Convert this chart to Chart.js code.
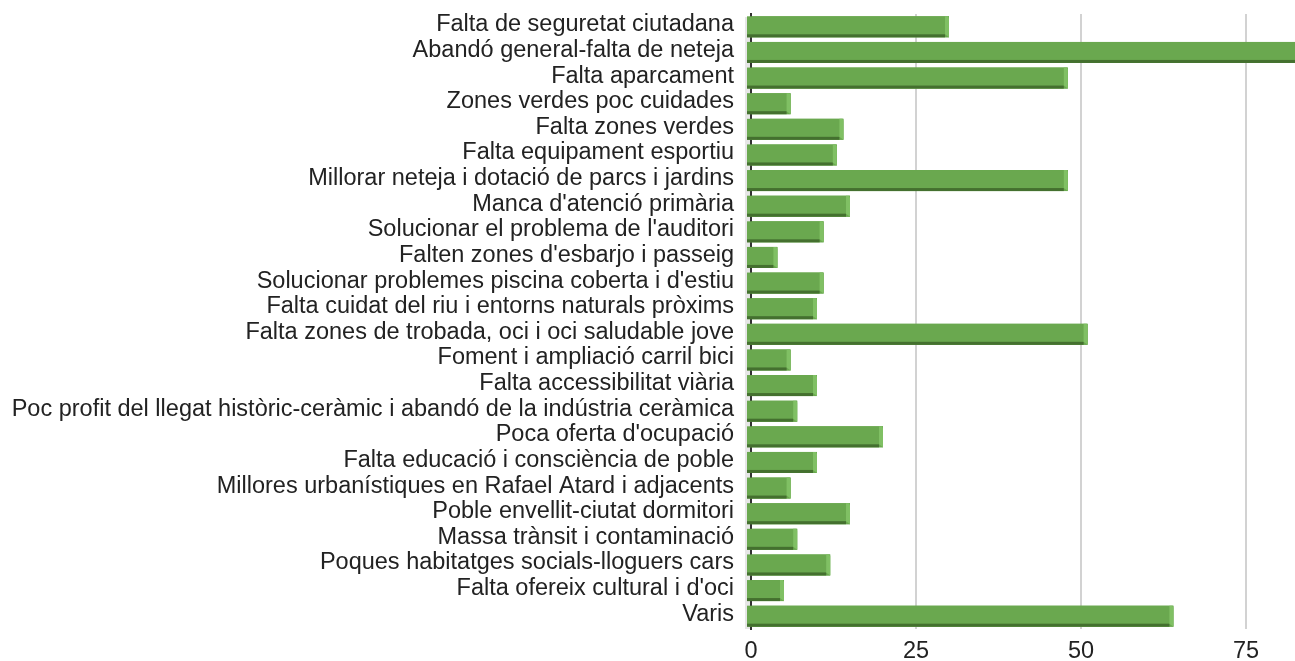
<!DOCTYPE html>
<html>
<head>
<meta charset="utf-8">
<script src="https://cdn.jsdelivr.net/npm/chart.js@4/dist/chart.umd.min.js"></script>
<style>
  html, body { margin: 0; padding: 0; background: #fff; overflow: hidden; }
  #wrap { width: 1440px; height: 661px; }
</style>
</head>
<body>
<div id="wrap"><canvas id="graph_problemes" width="1440" height="661"></canvas></div>
<script>
// categories (top to bottom)
const categories = [
	'Falta de seguretat ciutadana',
	'Abandó general-falta de neteja',
	'Falta aparcament',
	'Zones verdes poc cuidades',
	'Falta zones verdes',
	'Falta equipament esportiu',
	'Millorar neteja i dotació de parcs i jardins',
	"Manca d'atenció primària",
	"Solucionar el problema de l'auditori",
	"Falten zones d'esbarjo i passeig",
	"Solucionar problemes piscina coberta i d'estiu",
	'Falta cuidat del riu i entorns naturals pròxims',
	'Falta zones de trobada, oci i oci saludable jove',
	'Foment i ampliació carril bici',
	'Falta accessibilitat viària',
	'Poc profit del llegat històric-ceràmic i abandó de la indústria ceràmica',
	"Poca oferta d'ocupació",
	'Falta educació i consciència de poble',
	'Millores urbanístiques en Rafael Atard i adjacents',
	'Poble envellit-ciutat dormitori',
	'Massa trànsit i contaminació',
	'Poques habitatges socials-lloguers cars',
	"Falta ofereix cultural i d'oci",
	'Varis'
];

// respostes per categoria
const values = [30, 90, 48, 6, 14, 13, 48, 15, 11, 4, 11, 10, 51, 6, 10, 7, 20, 10, 6, 15, 7, 12, 5, 64];

// x axis
const xTicks = [0, 25, 50, 75, 100];
const xMax = 100;

const FACE = '#6aa84f';
const DARK = '#44702f';
const LIGHT = '#80c064';
const FONT = { family: 'Liberation Sans, Arial, sans-serif', size: 23.5 };

// fake 3d look like the original
const bar3d = {
	id: 'bar3d',
	beforeDatasetsDraw(chart) {
		const c = chart.ctx, a = chart.chartArea;
		c.save();
		c.fillStyle = '#e6e6e6';
		c.fillRect(a.left - 6, a.top + 3, 5, a.bottom - a.top - 3);
		c.restore();
	},
	afterDatasetsDraw(chart) {
		const c = chart.ctx;
		const meta = chart.getDatasetMeta(0);
		c.save();
		meta.data.forEach(function (bar) {
			const p = bar.getProps(['x', 'y', 'base', 'height'], true);
			const top = p.y - p.height / 2, bot = p.y + p.height / 2;
			const left = p.base - 5, right = p.x;
			// front face
			c.fillStyle = FACE;
			c.fillRect(left, top, right - left, bot - top);
			// bottom shadow
			c.fillStyle = DARK;
			c.fillRect(left, bot - 3, right - left - 4, 3);
			// right cap
			c.fillStyle = LIGHT;
			c.beginPath();
			c.moveTo(right - 4, top);
			c.lineTo(right - 1, top);
			c.lineTo(right, top + 2);
			c.lineTo(right, bot);
			c.lineTo(right - 4, bot - 3);
			c.closePath();
			c.fill();
		});
		c.restore();
	}
};

const ctx = document.getElementById('graph_problemes');
const chart = new Chart(ctx, {
	type: 'bar',
	data: {
		labels: categories,
		datasets: [{
			label: '',
			data: values,
			backgroundColor: FACE,
			borderWidth: 0,
			barPercentage: 0.82,
			categoryPercentage: 1
		}]
	},
	plugins: [bar3d],
	options: {
		indexAxis: 'y',
		responsive: false,
		animation: false,
		layout: { padding: { top: 14, right: 29, left: 0, bottom: 0 } },
		plugins: {
			legend: { display: false },
			tooltip: { enabled: false }
		},
		scales: {
			x: {
				min: 0,
				max: xMax,
				afterBuildTicks: function (scale) {
					scale.ticks = xTicks.map(v => ({ value: v }));
				},
				afterFit: function (scale) { scale.height = 32; },
				grid: {
					color: c => (c.tick && c.tick.value === 0) ? 'rgba(0,0,0,0)' : '#d2d2d2',
					lineWidth: 2,
					drawTicks: false
				},
				border: { display: false },
				ticks: {
					color: '#222',
					padding: 8,
					font: FONT
				}
			},
			y: {
				afterFit: function (scale) {
					scale.width = 751;
					scale.paddingTop = 0;
					scale.paddingBottom = 0;
				},
				grid: { display: false, drawTicks: false },
				border: { display: true, color: '#333', width: 2 },
				ticks: {
					color: '#222',
					padding: 17,
					labelOffset: -2,
					autoSkip: false,
					font: FONT
				}
			}
		}
	}
});
</script>
</body>
</html>
